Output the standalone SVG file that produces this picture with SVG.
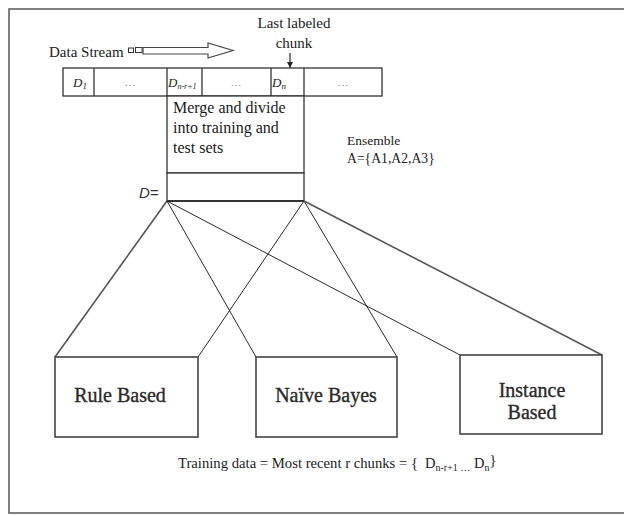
<svg xmlns="http://www.w3.org/2000/svg" width="624" height="516" viewBox="0 0 624 516">
  <defs>
    <marker id="tip" viewBox="0 0 10 10" refX="10" refY="5" markerWidth="6" markerHeight="6" orient="auto" markerUnits="userSpaceOnUse">
      <path d="M0,0 L10,5 L0,10 z" fill="#222"/>
    </marker>
  </defs>
  <style>
    .frame { fill: none; stroke: #555; stroke-width: 1.5; }
    .cell { fill: #fff; stroke: #333; stroke-width: 1.3; }
    .box { fill: #fff; stroke: #444; stroke-width: 1.6; }
    .thick { stroke: #555; stroke-width: 1.6; fill: none; }
    .thin { stroke: #111; stroke-width: 0.9; fill: none; }
    .serif { font-family: "Liberation Serif", "Times New Roman", serif; fill: #1a1a1a; }
    .lbl { font-size: 15px; }
    .cls { font-size: 20px; fill: #2a2a2a; stroke: #2a2a2a; stroke-width: 0.35; text-anchor: middle; }
    .dots { font-family: "Liberation Serif", serif; font-size: 11px; fill: #888; text-anchor: middle; }
    .chunk { font-family: "Liberation Serif", serif; font-style: italic; font-size: 13px; fill: #222; }
  </style>

  <rect class="frame" x="9" y="9" width="620" height="504"/>

  <!-- stream label and hollow arrow -->
  <g id="data-stream">
    <text class="serif lbl" x="49" y="57">Data Stream</text>
    <rect x="128.5" y="48" width="5" height="4.5" fill="none" stroke="#333" stroke-width="1"/>
    <rect x="135.5" y="47.5" width="6.5" height="5" fill="none" stroke="#333" stroke-width="1"/>
    <path d="M143,47.5 L208,47.5 L208,43 L233,50.5 L208,58 L208,54 L143,54 Z" fill="#fff" stroke="#444" stroke-width="1.2"/>
  </g>

  <!-- label pointing at the last chunk -->
  <g id="last-labeled">
    <text class="serif lbl" x="294" y="28" text-anchor="middle">Last labeled</text>
    <text class="serif lbl" x="294" y="48" text-anchor="middle">chunk</text>
    <line x1="290" y1="53" x2="290" y2="68" stroke="#222" stroke-width="1.2" marker-end="url(#tip)"/>
  </g>

  <!-- chunk strip -->
  <g id="chunks">
    <rect class="cell" x="63" y="68" width="319" height="28"/>
    <line x1="94" y1="68" x2="94" y2="96" stroke="#333" stroke-width="1.3"/>
    <line x1="167" y1="68" x2="167" y2="96" stroke="#333" stroke-width="1.3"/>
    <line x1="202" y1="68" x2="202" y2="96" stroke="#333" stroke-width="1.3"/>
    <line x1="271" y1="68" x2="271" y2="96" stroke="#333" stroke-width="1.3"/>
    <line x1="304" y1="68" x2="304" y2="96" stroke="#333" stroke-width="1.3"/>
    <text class="chunk" x="73" y="87">D<tspan font-size="9" dy="2">1</tspan></text>
    <text class="dots" x="130" y="86">…</text>
    <text class="chunk" x="168" y="87">D<tspan font-size="8" dy="2">n-r+1</tspan></text>
    <text class="dots" x="236" y="86">…</text>
    <text class="chunk" x="272" y="87">D<tspan font-size="9" dy="2">n</tspan></text>
    <text class="dots" x="343" y="86">…</text>
  </g>

  <!-- merge step and the D set -->
  <g id="merge">
    <rect class="cell" x="167" y="96" width="137" height="77"/>
    <text class="serif" font-size="16" x="173" y="113">Merge and divide</text>
    <text class="serif" font-size="16" x="173" y="133">into training and</text>
    <text class="serif" font-size="16" x="173" y="153">test sets</text>
  </g>
  <g id="dataset">
    <rect class="cell" x="167" y="173" width="137" height="28"/>
    <line x1="167" y1="201" x2="304" y2="201" stroke="#333" stroke-width="1.8"/>
    <text x="139" y="198" font-family="'Liberation Sans', Arial, sans-serif" font-style="italic" font-size="15" fill="#333">D=</text>
  </g>

  <g id="ensemble">
    <text class="serif" font-size="13.5" x="347" y="145">Ensemble</text>
    <text class="serif" font-size="13.7" x="347" y="163">A={A1,A2,A3}</text>
  </g>

  <!-- links from the D set to each classifier -->
  <g id="connectors">
    <line class="thick" x1="167" y1="201" x2="55" y2="357"/>
    <line class="thin" x1="167" y1="201" x2="256" y2="357"/>
    <line class="thin" x1="167" y1="201" x2="460" y2="355"/>
    <line class="thin" x1="304" y1="201" x2="198" y2="357"/>
    <line class="thin" x1="304" y1="201" x2="397" y2="357"/>
    <line class="thick" x1="304" y1="201" x2="602" y2="355"/>
  </g>

  <g id="rule-based">
    <rect class="box" x="55" y="357" width="143" height="80"/>
    <text class="serif cls" x="120" y="402">Rule Based</text>
  </g>
  <g id="naive-bayes">
    <rect class="box" x="256" y="357" width="141" height="80"/>
    <text class="serif cls" x="326" y="402">Naïve Bayes</text>
  </g>
  <g id="instance-based">
    <rect class="box" x="460" y="355" width="142" height="79"/>
    <text class="serif cls" x="532" y="397">Instance</text>
    <text class="serif cls" x="532" y="419">Based</text>
  </g>

  <g id="training-note">
    <text class="serif" font-size="14.5" x="178" y="468"><tspan textLength="240" lengthAdjust="spacingAndGlyphs">Training data = Most recent r chunks = {</tspan></text>
    <text class="serif" font-size="14.5" x="425" y="468">D<tspan font-size="10" dy="3">n-r+1 …</tspan><tspan dy="-3">  D</tspan><tspan font-size="10" dy="3">n</tspan><tspan dy="-6">}</tspan></text>
  </g>
</svg>
